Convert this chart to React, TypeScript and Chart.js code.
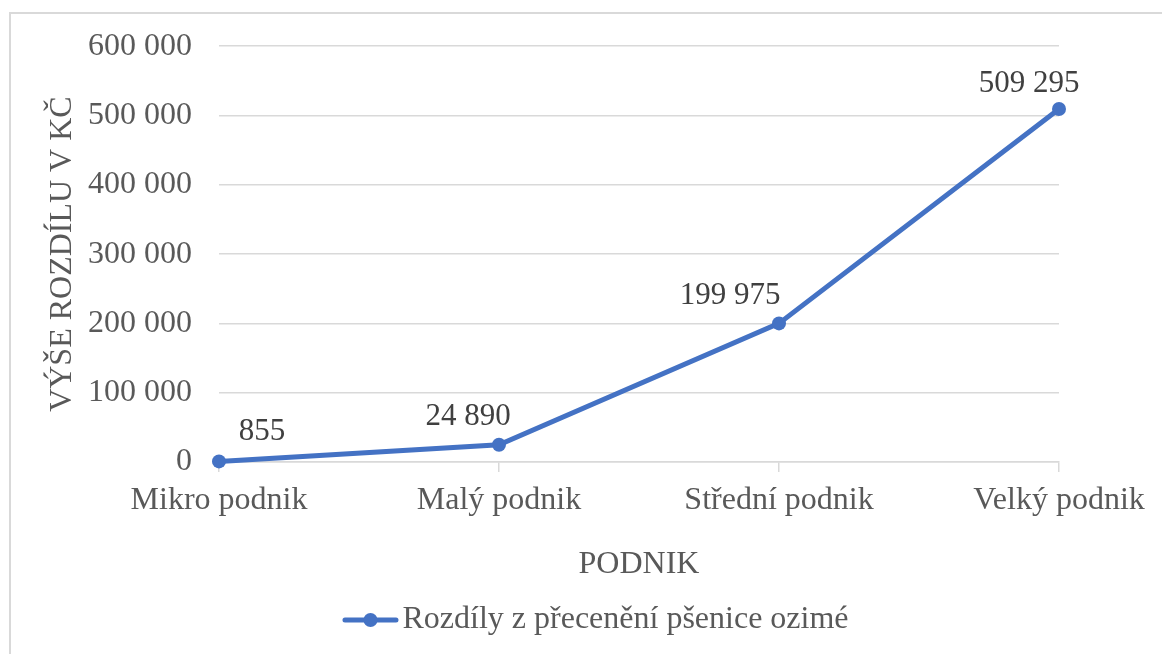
import React, { useEffect, useRef } from "react";
import { Chart, registerables } from "chart.js";

Chart.register(...registerables);

const categories = ["Mikro podnik", "Malý podnik", "Střední podnik", "Velký podnik"];
const seriesLabel = "Rozdíly z přecenění pšenice ozimé";
const seriesValues = [855, 24890, 199975, 509295];
const yTickMin = 0;
const yTickMax = 600000;
const yTickStep = 100000;
const xTitle = "PODNIK";
const yTitle = "VÝŠE ROZDÍLU V KČ";

// label offsets relative to their points (Excel label placement)
const labelOffsets = [
  [43, -30],
  [-31, -28],
  [-49, -28],
  [-30, -25],
];

const FONT = '"Liberation Serif", "Times New Roman", serif';
const TEXT = "#595959";
const GRID = "#d9d9d9";
const BLUE = "#4472C4";
const FS = 32;

const fmt = (v: number) => String(Math.round(v)).replace(/\B(?=(\d{3})+(?!\d))/g, " ");

const framePlugin = {
  id: "frame",
  beforeDraw(chart: any) {
    const ctx = chart.ctx;
    ctx.save();
    ctx.strokeStyle = GRID;
    ctx.lineWidth = 2;
    ctx.beginPath();
    ctx.moveTo(10, chart.height);
    ctx.lineTo(10, 13);
    ctx.lineTo(chart.width, 13);
    ctx.stroke();
    ctx.restore();
  },
};

const dataLabelPlugin = {
  id: "dataLabels",
  afterDatasetsDraw(chart: any) {
    const ctx = chart.ctx;
    const meta = chart.getDatasetMeta(0);
    const data = chart.data.datasets[0].data as number[];
    ctx.save();
    ctx.font = `31px ${FONT}`;
    ctx.fillStyle = "#404040";
    ctx.textAlign = "center";
    ctx.textBaseline = "middle";
    meta.data.forEach((el: any, i: number) => {
      const [dx, dy] = labelOffsets[i];
      ctx.fillText(fmt(data[i]), el.x + dx, el.y + dy);
    });
    ctx.restore();
  },
};

const legendPlugin = {
  id: "customLegend",
  afterDraw(chart: any) {
    const ctx = chart.ctx;
    const ds = chart.data.datasets[0];
    ctx.save();
    ctx.font = `${FS}px ${FONT}`;
    const tw = ctx.measureText(ds.label).width;
    const lineLen = 56;
    const gap = 4;
    const total = lineLen + gap + tw;
    const cx = 595.5;
    const cy = 620;
    const x0 = cx - total / 2;
    ctx.strokeStyle = ds.borderColor;
    ctx.lineWidth = 5;
    ctx.lineCap = "round";
    ctx.beginPath();
    ctx.moveTo(x0 + 2.5, cy);
    ctx.lineTo(x0 + lineLen - 2.5, cy);
    ctx.stroke();
    ctx.fillStyle = ds.borderColor;
    ctx.beginPath();
    ctx.arc(x0 + lineLen / 2, cy, 7, 0, Math.PI * 2);
    ctx.fill();
    ctx.fillStyle = TEXT;
    ctx.textAlign = "left";
    ctx.textBaseline = "middle";
    ctx.fillText(ds.label, x0 + lineLen + gap, cy);
    ctx.restore();
  },
};

export default function App() {
  const ref = useRef<HTMLCanvasElement | null>(null);
  useEffect(() => {
    document.body.style.margin = "0";
    document.body.style.overflow = "hidden";
    const canvas = ref.current;
    if (!canvas) return;
    const chart = new Chart(canvas, {
      type: "line",
      data: {
        labels: categories,
        datasets: [
          {
            label: seriesLabel,
            data: seriesValues,
            borderColor: BLUE,
            backgroundColor: BLUE,
            borderWidth: 5,
            pointRadius: 7,
            pointHoverRadius: 7,
            pointBackgroundColor: BLUE,
            pointBorderWidth: 0,
            tension: 0,
            clip: false as any,
          },
        ],
      },
      options: {
        responsive: false,
        animation: false,
        devicePixelRatio: 1,
        layout: { padding: { top: 44, right: 103, bottom: 62, left: 0 } },
        plugins: {
          legend: { display: false },
          tooltip: { enabled: false },
        },
        scales: {
          x: {
            offset: false,
            afterFit: (s: any) => {
              s.height = 130;
            },
            grid: {
              display: true,
              drawOnChartArea: false,
              drawTicks: true,
              tickLength: 10,
              color: GRID,
              lineWidth: 1.5,
            },
            border: { display: true, color: GRID, width: 1.5 },
            ticks: {
              color: TEXT,
              font: { family: FONT, size: FS },
              padding: 9,
              maxRotation: 0,
              autoSkip: false,
            },
            title: {
              display: true,
              text: xTitle,
              color: TEXT,
              font: { family: FONT, size: FS },
              padding: { top: 0, bottom: 8 },
            },
          },
          y: {
            min: yTickMin,
            max: yTickMax,
            afterFit: (s: any) => {
              s.width = 219;
            },
            ticks: {
              stepSize: yTickStep,
              color: TEXT,
              font: { family: FONT, size: FS },
              padding: 27,
              callback: (v: any) => fmt(Number(v)),
            },
            grid: { color: GRID, lineWidth: 1.5, drawTicks: false },
            border: { display: false },
            title: {
              display: true,
              text: yTitle,
              color: TEXT,
              font: { family: FONT, size: FS },
              padding: { top: 43, bottom: 0 },
            },
          },
        },
      },
      plugins: [framePlugin, dataLabelPlugin, legendPlugin],
    });
    return () => chart.destroy();
  }, []);
  return (
    <div style={{ width: 1162, height: 654, background: "#fff" }}>
      <canvas ref={ref} width={1162} height={654} style={{ display: "block", width: 1162, height: 654 }} />
    </div>
  );
}
